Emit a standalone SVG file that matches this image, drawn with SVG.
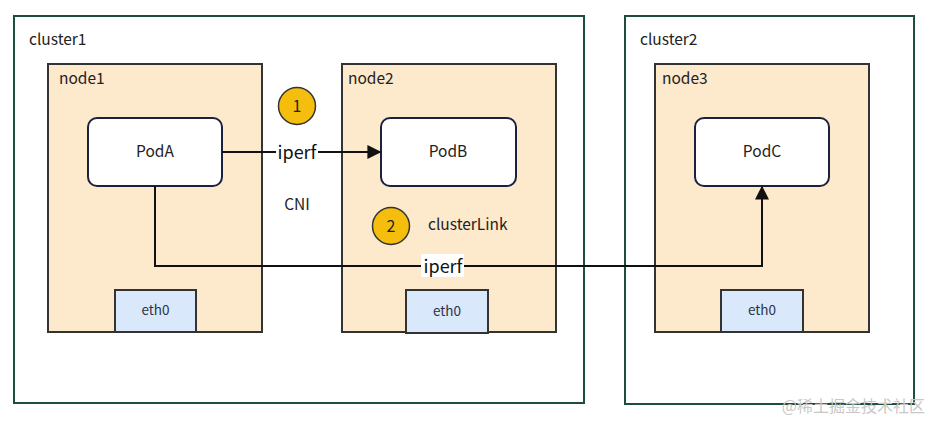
<svg xmlns="http://www.w3.org/2000/svg" width="930" height="422" viewBox="0 0 930 422">
<style>
text{font-family:"Noto Sans CJK SC","Noto Sans",sans-serif;fill:#222;}
.cluster{fill:#fff;stroke:#1d4d40;stroke-width:2;}
.node{fill:#fde9cc;stroke:#333;stroke-width:2;}
.pod{fill:#fff;stroke:#1c2140;stroke-width:2;}
.eth{fill:#dae8fc;stroke:#333;stroke-width:2;}
.badge{fill:#f5bd0c;stroke:#333;stroke-width:1.5;}
.lbl{font-size:15.5px;}
.ctr{font-size:15.5px;text-anchor:middle;}
.eth-t{font-size:13.5px;text-anchor:middle;fill:#2a3347;}
.edge{fill:none;stroke:#111;stroke-width:2;}
.elbl{font-size:18px;text-anchor:middle;fill:#111;}
</style>
<defs>
<marker id="ah" viewBox="0 0 10 10" refX="9" refY="5" markerWidth="7" markerHeight="7" orient="auto" markerUnits="strokeWidth">
<path d="M0,0 L10,5 L0,10 z" fill="#111"/>
</marker>
</defs>
<rect width="930" height="422" fill="#fff"/>
<g id="cluster1"><rect class="cluster" x="14" y="16" width="570" height="387"/><text class="lbl" x="29" y="45">cluster1</text></g>
<g id="cluster2"><rect class="cluster" x="625" y="16" width="289" height="388"/><text class="lbl" x="640" y="45">cluster2</text></g>
<g id="node1"><rect class="node" x="48" y="64" width="214" height="268"/><text class="lbl" x="59" y="84">node1</text></g>
<g id="node2"><rect class="node" x="342" y="64" width="214" height="268"/><text class="lbl" x="348" y="84">node2</text></g>
<g id="node3"><rect class="node" x="655" y="64" width="214" height="268"/><text class="lbl" x="662" y="84">node3</text></g>
<g id="podA"><rect class="pod" x="88" y="118" width="134" height="68" rx="9"/><text class="ctr" x="155" y="157">PodA</text></g>
<g id="podB"><rect class="pod" x="381" y="118" width="135" height="68" rx="9"/><text class="ctr" x="448" y="157">PodB</text></g>
<g id="podC"><rect class="pod" x="695" y="118" width="134" height="68" rx="9"/><text class="ctr" x="762" y="157">PodC</text></g>
<g id="eth0-1"><rect class="eth" x="115" y="290" width="81" height="42"/><text class="eth-t" x="155.5" y="315">eth0</text></g>
<g id="eth0-2"><rect class="eth" x="406" y="290" width="82" height="43"/><text class="eth-t" x="447" y="316">eth0</text></g>
<g id="eth0-3"><rect class="eth" x="721" y="290" width="82" height="42"/><text class="eth-t" x="762" y="315">eth0</text></g>
<g id="badge1"><circle class="badge" cx="297" cy="106" r="18.5"/><text class="ctr" x="297" y="112" style="font-size:16px">1</text></g>
<g id="badge2"><circle class="badge" cx="391" cy="226" r="18.5"/><text class="ctr" x="391" y="232" style="font-size:16px">2</text></g>
<g id="cni"><text class="ctr" x="297" y="210">CNI</text></g>
<g id="clusterlink"><text class="lbl" x="428" y="230">clusterLink</text></g>
<g id="connectors">
<path class="edge" d="M222,152 L380,152" marker-end="url(#ah)"/>
<rect x="276" y="141" width="42" height="22" fill="#fff"/>
<text class="elbl" x="297" y="159">iperf</text>
<path class="edge" d="M155,186 L155,266 L762,266 L762,187" marker-end="url(#ah)"/>
<rect x="421" y="254" width="43" height="23" fill="#fff"/>
<text class="elbl" x="443" y="273">iperf</text>
</g>
<text x="925" y="412" style="font-size:16px;text-anchor:end;fill:#c8c8c8">@稀土掘金技术社区</text>
</svg>
